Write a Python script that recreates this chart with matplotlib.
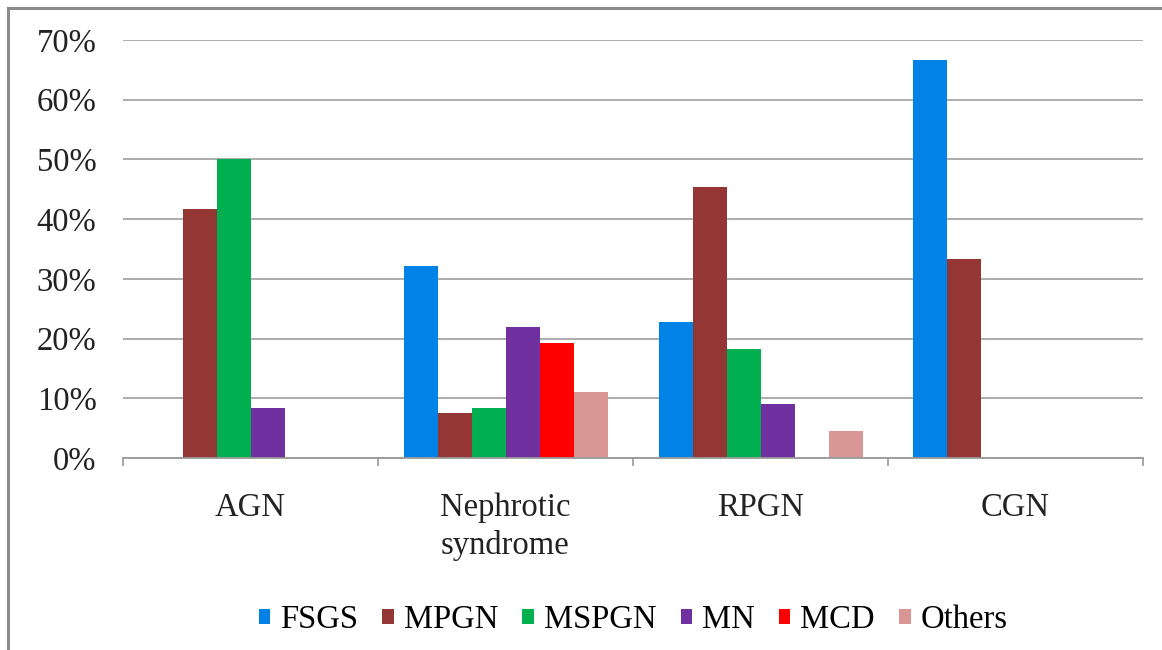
import numpy as np
import matplotlib.pyplot as plt
from matplotlib.lines import Line2D

# Daten
kategorien = ["AGN", "Nephrotic\nsyndrome", "RPGN", "CGN"]
serien = ["FSGS", "MPGN", "MSPGN", "MN", "MCD", "Others"]
fsgs = [0, 32.1, 22.7, 66.7]
mpgn = [41.7, 7.6, 45.4, 33.3]
mspgn = [50.0, 8.3, 18.2, 0]
mn = [8.3, 22.0, 9.1, 0]
mcd = [0, 19.2, 0, 0]
others = [0, 11.0, 4.5, 0]
werte = [fsgs, mpgn, mspgn, mn, mcd, others]
farben = ["#0082E6", "#943634", "#00B050", "#7030A0", "#FF0000", "#D99694"]

plt.rcParams['font.family'] = ['Liberation Serif', 'DejaVu Serif']

fig = plt.figure(figsize=(11.62, 6.5), dpi=100)
ax = fig.add_axes([123/1162, 1 - 458/650, (1143-123)/1162, (458-40)/650])

x = np.arange(len(kategorien))
breite = 0.8 / len(serien)
for i, (name, y) in enumerate(zip(serien, werte)):
    ax.bar(x + (i - 2.5) * breite, y, breite, color=farben[i], label=name, zorder=3)

ax.set_xlim(-0.5, len(kategorien) - 0.5)
ax.set_ylim(0, 70)
ax.set_yticks(np.arange(0, 71, 10))
ax.set_yticklabels([f"{v}%" for v in range(0, 71, 10)])
ax.set_xticks(x)
ax.set_xticklabels(kategorien, linespacing=1.3)
ax.set_xticks(np.arange(-0.5, len(kategorien), 1), minor=True)

ax.tick_params(axis='y', length=0, pad=19, labelsize=23.5, colors='#222222')
ax.tick_params(axis='x', which='major', length=0, pad=25, labelsize=23.5, colors='#222222')
ax.tick_params(axis='x', which='minor', length=6, width=1.2, color='#999999')

# Gitter
ax.grid(axis='y', color='#a6a6a6', linewidth=1.3, zorder=0)
for s in ['top', 'right', 'left']:
    ax.spines[s].set_visible(False)
ax.spines['bottom'].set_color('#999999')
ax.spines['bottom'].set_linewidth(1.3)
ax.spines['bottom'].set_zorder(4)

# Legende
ax.legend(loc='center', bbox_to_anchor=(0.5, (458-620)/418), ncol=6, frameon=False,
          fontsize=23.5, handlelength=0.35, handleheight=0.35, handletextpad=0.3,
          columnspacing=0.75, borderaxespad=0)

# Rahmen (oben und links)
fig.add_artist(Line2D([8/1162, 1], [1 - 8/650, 1 - 8/650], color='#8c8c8c', lw=2.2))
fig.add_artist(Line2D([8/1162, 8/1162], [0, 1 - 8/650], color='#8c8c8c', lw=2.2))

fig.savefig("out.png", dpi=100)
